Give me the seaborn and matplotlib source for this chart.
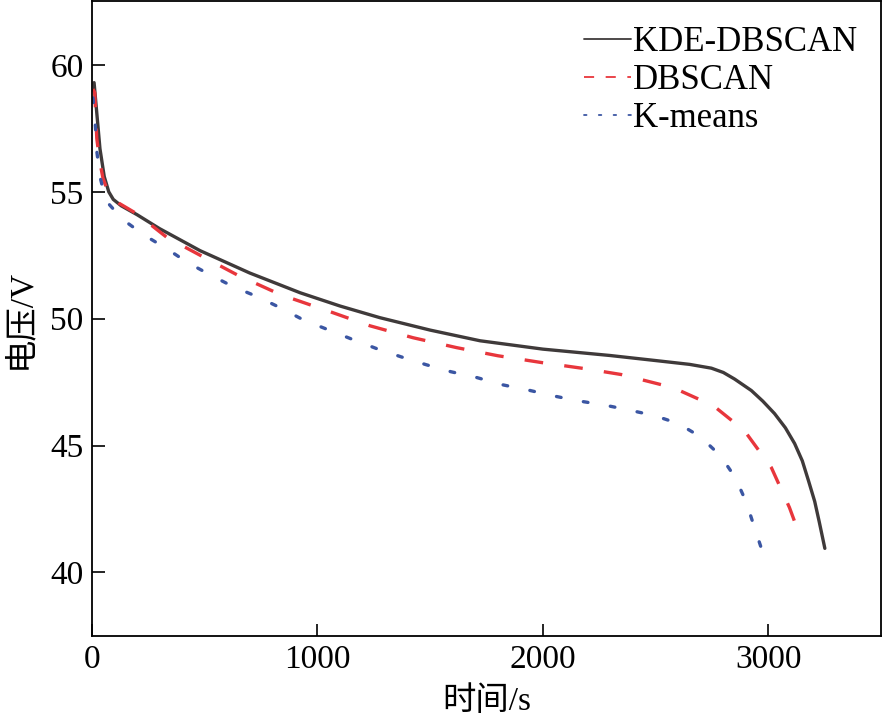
import matplotlib
matplotlib.use("Agg")
import matplotlib.pyplot as plt
import seaborn as sns

sns.set_style("ticks")
plt.rcParams['font.family'] = ['Liberation Serif', 'Noto Sans CJK SC']
plt.rcParams['axes.unicode_minus'] = False
for k in ['text.color', 'axes.labelcolor', 'xtick.color', 'ytick.color', 'axes.edgecolor']:
    plt.rcParams[k] = 'black'

# data
t_kde = [10, 20, 36, 55, 75, 95, 130, 200, 300, 480, 700, 924, 1100, 1277, 1500,
         1721, 2000, 2297, 2500, 2650, 2747, 2800, 2850, 2924, 2975, 3027, 3075,
         3116, 3150, 3178, 3205, 3225, 3250]
v_kde = [59.3, 58.3, 56.7, 55.6, 55.0, 54.7, 54.45, 54.1, 53.55, 52.68, 51.8, 51.02,
         50.5, 50.04, 49.55, 49.13, 48.8, 48.55, 48.35, 48.2, 48.05, 47.88, 47.62,
         47.17, 46.75, 46.26, 45.7, 45.08, 44.4, 43.6, 42.8, 42.0, 40.95]

t_db = [5, 13, 22, 35, 49, 65, 80, 120, 200, 333, 480, 650, 836, 1055, 1233, 1424,
        1617, 1800, 1995, 2187, 2347, 2578, 2756, 2893, 3013, 3093, 3147]
v_db = [59.05, 58.9, 57.1, 56.2, 55.55, 55.15, 54.9, 54.55, 54.13, 53.2, 52.5, 51.7,
        50.95, 50.28, 49.72, 49.25, 48.86, 48.54, 48.27, 48.03, 47.8, 47.28, 46.57,
        45.59, 44.13, 42.56, 41.26]

t_km = [5, 15, 22, 36, 62, 138, 231, 333, 427, 524, 627, 733, 836, 936, 1046, 1148,
        1263, 1370, 1481, 1592, 1707, 1818, 1929, 2040, 2151, 2271, 2382, 2495, 2600,
        2698, 2787, 2853, 2902, 2938, 2973]
v_km = [58.7, 57.7, 56.6, 55.6, 54.65, 53.9, 53.3, 52.75, 52.2, 51.73, 51.26, 50.87,
        50.43, 49.96, 49.57, 49.21, 48.82, 48.5, 48.19, 47.91, 47.68, 47.4, 47.2, 46.97,
        46.77, 46.6, 46.4, 46.18, 45.87, 45.35, 44.6, 43.74, 42.76, 41.77, 40.83]

labels = ["KDE-DBSCAN", "DBSCAN", "K-means"]
colors = ["#3f3a3a", "#e8363c", "#3b56a3"]

fig = plt.figure(figsize=(8.83, 7.21), dpi=100)
ax = fig.add_axes([0.104, 0.118, 0.894, 0.88])

sns.lineplot(x=t_kde, y=v_kde, ax=ax, color=colors[0], linewidth=2.4, label=labels[0])
sns.lineplot(x=t_db, y=v_db, ax=ax, color=colors[1], linewidth=2.4, label=labels[1])
sns.lineplot(x=t_km, y=v_km, ax=ax, color=colors[2], linewidth=2.4, label=labels[2])

lines = ax.get_lines()
lines[1].set_dashes((5.6, 6.4))
lines[2].set_dashes((1.4, 6.8))
lines[2].set_dash_capstyle('round')

ax.set_xlim(0, 3500)
ax.set_ylim(37.5, 62.5)
ax.set_xticks([0, 1000, 2000, 3000])
ax.set_yticks([40, 45, 50, 55, 60])
ax.tick_params(direction='in', length=9, width=1.2, labelsize=24, pad=6,
               top=False, right=False)
for s in ax.spines.values():
    s.set_visible(True)
    s.set_linewidth(1.3)

ax.set_xlabel("时间/s", fontsize=24, labelpad=8)
ax.set_ylabel("电压/V", fontsize=24, labelpad=10)

leg = ax.legend(loc='upper right', frameon=False, fontsize=25, handlelength=1.35,
                handletextpad=0.05, labelspacing=0.15, borderaxespad=0.3)
for h in leg.get_lines():
    h.set_linewidth(1.3)

fig.savefig("out.png", dpi=100)
